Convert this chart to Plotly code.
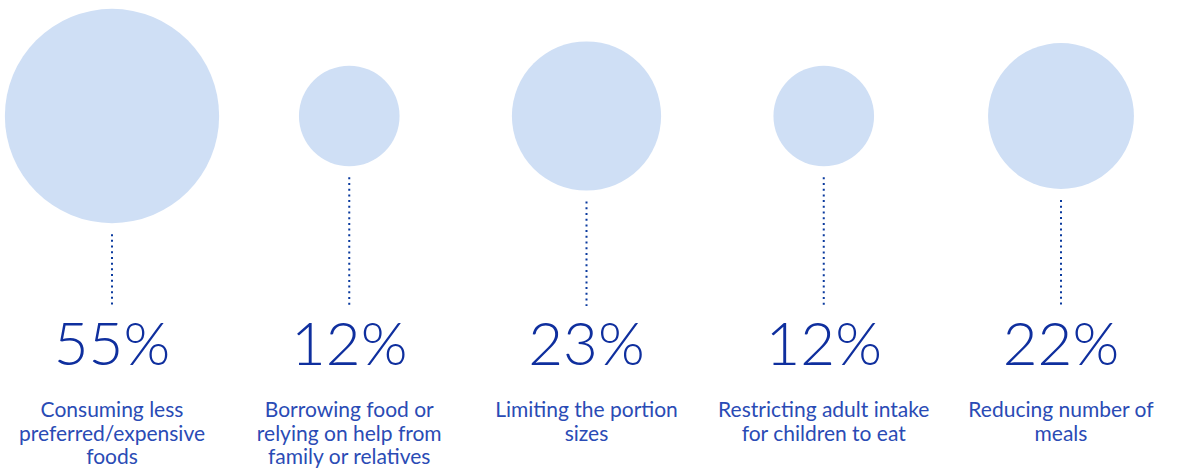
import math
import plotly.graph_objects as go

# ---- data ----
categories = [
    "Consuming less<br>preferred/expensive<br>foods",
    "Borrowing food or<br>relying on help from<br>family or relatives",
    "Limiting the portion<br>sizes",
    "Restricting adult intake<br>for children to eat",
    "Reducing number of<br>meals",
]
values = [55, 12, 23, 12, 22]
value_labels = [f"{v}%" for v in values]

# ---- style / scale ----
CIRCLE = "#cfdff5"
DARK = "#0f2f9e"
LABEL = "#2a4bb5"
FONT = "Lato, 'Open Sans', sans-serif"

# bubble diameter scale (log-based)
def diam(v):
    return -84.9 + 74.66 * math.log(v)

xs = list(range(len(values)))
sizes = [diam(v) for v in values]
CY = 116          # circle centre row (pixel-like y axis)
LINE_END = 306
GAP = 11
LABEL_TOP = 412
LINE_H = 23.5

fig = go.Figure()

# dotted connectors
for x, s in zip(xs, sizes):
    fig.add_trace(go.Scatter(
        x=[x, x], y=[CY + s / 2 + GAP, LINE_END], mode="lines",
        line=dict(color="#0a3a9e", width=2, dash="2px,3.7px"),
        hoverinfo="skip", showlegend=False))

# bubbles
fig.add_trace(go.Scatter(
    x=xs, y=[CY] * len(xs), mode="markers",
    marker=dict(size=sizes, sizemode="diameter", color=CIRCLE,
                line=dict(width=0), opacity=1),
    hovertext=value_labels, hoverinfo="text", showlegend=False))

# percentages
fig.add_trace(go.Scatter(
    x=xs, y=[350] * len(xs), mode="text", text=value_labels,
    textposition="middle center",
    textfont=dict(family=FONT, size=60, color=DARK, weight=300),
    hoverinfo="skip", showlegend=False))

# category labels, one text row per line
lx, ly, lt = [], [], []
for x, cat in zip(xs, categories):
    for k, part in enumerate(cat.split("<br>")):
        lx.append(x)
        ly.append(LABEL_TOP + k * LINE_H)
        lt.append(part)
fig.add_trace(go.Scatter(
    x=lx, y=ly, mode="text", text=lt,
    textposition="middle center",
    textfont=dict(family=FONT, size=21, color=LABEL),
    hoverinfo="skip", showlegend=False))

step = 237.25
fig.update_layout(
    width=1190, height=468,
    margin=dict(l=0, r=0, t=0, b=0),
    paper_bgcolor="white", plot_bgcolor="white",
    xaxis=dict(range=[-112 / step, -112 / step + 1190 / step], visible=False, fixedrange=True),
    yaxis=dict(range=[468, 0], visible=False, fixedrange=True),
    showlegend=False,
)

fig.write_html("out.html", config={"displayModeBar": False},
               post_script="document.body.style.margin='0';document.body.style.overflow='hidden';")
